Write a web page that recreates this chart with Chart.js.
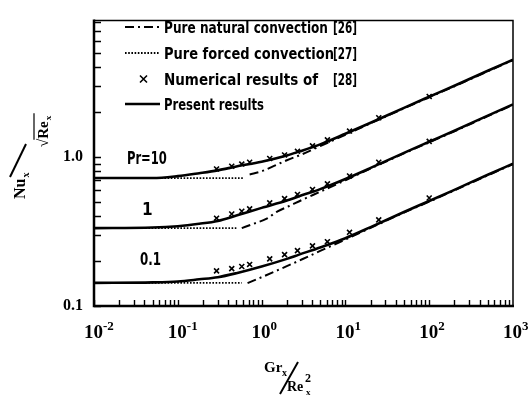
<!DOCTYPE html>
<html>
<head>
<meta charset="utf-8">
<script src="https://cdn.jsdelivr.net/npm/chart.js@4"></script>
<style>
  html, body { margin: 0; padding: 0; background: #fff; }
</style>
</head>
<body>
<canvas id="myChart" width="528" height="395"></canvas>
<script>
// present results (solid lines)
const xPresent = [0.01, 0.05, 0.1, 0.18, 0.3, 0.5, 1, 2, 2.8, 5, 10, 20, 50, 100, 200, 500, 1000];
const present10 = [0.721, 0.721, 0.743, 0.777, 0.812, 0.862, 0.928, 1.022, 1.085, 1.213, 1.429, 1.694, 2.133, 2.531, 3.0, 3.779, 4.483];
const present1 = [0.333, 0.336, 0.343, 0.356, 0.372, 0.404, 0.455, 0.509, 0.544, 0.608, 0.711, 0.843, 1.064, 1.263, 1.498, 1.891, 2.247];
const present01 = [0.143, 0.144, 0.146, 0.151, 0.156, 0.166, 0.184, 0.207, 0.221, 0.247, 0.285, 0.338, 0.427, 0.506, 0.601, 0.759, 0.901];

// pure natural convection [26]
const xNatural10 = [0.72, 1, 1.5, 2, 3, 5, 10, 20, 50, 100, 200, 500, 1000];
const natural10 = [0.762, 0.8, 0.884, 0.949, 1.038, 1.181, 1.407, 1.68, 2.115, 2.51, 2.975, 3.75, 4.45];
const xNatural1 = [0.58, 0.78, 1.15, 1.55, 2.15, 3, 5, 10, 20, 50, 100, 200, 500, 1000];
const natural1 = [0.333, 0.354, 0.385, 0.431, 0.469, 0.513, 0.584, 0.697, 0.835, 1.055, 1.252, 1.485, 1.875, 2.23];
const xNatural01 = [0.68, 1, 2, 3, 5, 10, 20, 50, 100, 200, 500, 1000];
const natural01 = [0.1425, 0.156, 0.185, 0.205, 0.234, 0.279, 0.334, 0.423, 0.501, 0.596, 0.752, 0.893];

// pure forced convection [27]
const xForced10 = [0.01, 0.6];
const forced10 = [0.721, 0.721];
const xForced1 = [0.01, 0.5];
const forced1 = [0.333, 0.333];
const xForced01 = [0.01, 0.58];
const forced01 = [0.143, 0.143];

// numerical results of [28]
const xNumerical = [0.29, 0.44, 0.58, 0.72, 1.25, 1.88, 2.68, 4.05, 6.1, 11.2, 25, 100];
const numerical10 = [0.83, 0.865, 0.895, 0.92, 0.975, 1.03, 1.09, 1.185, 1.3, 1.49, 1.83, 2.54];
const numerical1 = [0.388, 0.414, 0.432, 0.448, 0.492, 0.525, 0.56, 0.605, 0.66, 0.745, 0.92, 1.27];
const numerical01 = [0.172, 0.178, 0.184, 0.19, 0.207, 0.221, 0.235, 0.253, 0.27, 0.312, 0.378, 0.53];

// axes
const xTickExps = [-2, -1, 0, 1, 2, 3];
const yTickValues = [0.1, 1];
const yTickLabels = ['0.1', '1.0'];

const prLabels = ['Pr=10', '1', '0.1'];
const prLabelX = [0.0247, 0.0373, 0.0353];
const prLabelY = [0.9, 0.41, 0.187];

const legendLabels = ['Pure natural convection', 'Pure forced convection', 'Numerical results of', 'Present results'];
const legendRefs = ['[26]', '[27]', '[28]', ''];

function pts(xs, ys) {
  return xs.map((x, i) => ({ x: x, y: ys[i] }));
}

function present(xs, ys) {
  return { data: pts(xs, ys), showLine: true, borderColor: '#000', borderWidth: 2.6,
    pointRadius: 0, cubicInterpolationMode: 'monotone' };
}
function natural(xs, ys) {
  return { data: pts(xs, ys), showLine: true, borderColor: '#000', borderWidth: 2,
    borderDash: [9, 4, 2, 4], pointRadius: 0, cubicInterpolationMode: 'monotone' };
}
function forced(xs, ys) {
  return { data: pts(xs, ys), showLine: true, borderColor: '#000', borderWidth: 1.8,
    borderDash: [1.6, 1.6], pointRadius: 0 };
}
function numerical(xs, ys) {
  return { data: pts(xs, ys), showLine: false, pointStyle: 'crossRot', pointRadius: 3.5,
    borderColor: '#000', pointBorderWidth: 1.6 };
}

const sans = '"DejaVu Sans Condensed", "Liberation Sans Narrow", "Liberation Sans", sans-serif';
const serif = '"Liberation Serif", "DejaVu Serif", serif';

function fitText(ctx, str, x, y, w) {
  const m = ctx.measureText(str).width;
  ctx.save();
  ctx.translate(x, y);
  if (w) ctx.scale(w / m, 1);
  ctx.fillText(str, 0, 0);
  ctx.restore();
}

const decor = {
  id: 'decor',
  afterDraw(chart) {
    const ctx = chart.ctx;
    const a = chart.chartArea;
    const xs = chart.scales.x, ys = chart.scales.y;
    ctx.save();
    ctx.strokeStyle = '#000';
    ctx.fillStyle = '#000';
    ctx.lineCap = 'butt';

    // frame
    ctx.lineWidth = 1.5;
    ctx.beginPath();
    ctx.moveTo(a.left, a.top); ctx.lineTo(a.right, a.top); ctx.lineTo(a.right, a.bottom);
    ctx.stroke();
    ctx.lineWidth = 2.5;
    ctx.beginPath();
    ctx.moveTo(a.left, a.top - 1); ctx.lineTo(a.left, a.bottom); ctx.lineTo(a.right + 1, a.bottom);
    ctx.stroke();

    // inward minor ticks
    ctx.lineWidth = 1.4;
    ctx.beginPath();
    for (let e = -2; e < 3; e++) {
      for (let m = 1; m < 10; m++) {
        const px = Math.round(xs.getPixelForValue(m * Math.pow(10, e))) + 0.5;
        ctx.moveTo(px, a.bottom); ctx.lineTo(px, a.bottom - 6);
      }
    }
    for (let e = -1; e < 1; e++) {
      for (let m = 1; m < 10; m++) {
        const v = m * Math.pow(10, e);
        if (v > ys.max) continue;
        const py = Math.round(ys.getPixelForValue(v)) + 0.5;
        ctx.moveTo(a.left, py); ctx.lineTo(a.left + 7, py);
      }
    }
    ctx.stroke();

    // x tick labels 10^n
    ctx.textBaseline = 'alphabetic';
    xTickExps.forEach(e => {
      const px = xs.getPixelForValue(Math.pow(10, e));
      ctx.font = 'bold 19px ' + serif;
      const w1 = ctx.measureText('10').width;
      const sup = e < 0 ? '-' + (-e) : String(e);
      const x0 = px - 10;
      ctx.fillText('10', x0, a.bottom + 32);
      ctx.font = 'bold 13px ' + serif;
      ctx.fillText(sup, x0 + w1, a.bottom + 24);
    });

    // x axis title Gr_x / Re_x^2
    ctx.font = 'bold 15px ' + serif;
    ctx.fillText('Gr', 264, 372);
    ctx.font = 'bold 10px ' + serif;
    ctx.fillText('x', 282, 376);
    ctx.lineWidth = 2;
    ctx.beginPath(); ctx.moveTo(280, 394); ctx.lineTo(298, 362); ctx.stroke();
    ctx.font = 'bold 14px ' + serif;
    ctx.fillText('Re', 287, 391);
    ctx.font = 'bold 12px ' + serif;
    ctx.fillText('2', 305, 382);
    ctx.font = 'bold 9px ' + serif;
    ctx.fillText('x', 306, 395);

    // y axis title Nu_x / sqrt(Re_x)
    ctx.save();
    ctx.translate(0, 199);
    ctx.rotate(-Math.PI / 2);
    ctx.font = 'bold 16px ' + serif;
    ctx.fillText('Nu', 0, 25);
    const wNu = ctx.measureText('Nu').width;
    ctx.font = 'bold 10px ' + serif;
    ctx.fillText('x', wNu + 1, 29);
    ctx.lineWidth = 2;
    ctx.beginPath(); ctx.moveTo(22, 10); ctx.lineTo(55, 26); ctx.stroke();
    ctx.font = 'bold 15px ' + serif;
    ctx.fillText('\u221A', 52, 48);
    const wR = ctx.measureText('\u221A').width;
    ctx.fillText('Re', 52 + wR, 48);
    const wRe = ctx.measureText('Re').width;
    ctx.lineWidth = 1.2;
    ctx.beginPath(); ctx.moveTo(52 + wR - 1, 34); ctx.lineTo(52 + wR + wRe + 8, 34); ctx.stroke();
    ctx.font = 'bold 9px ' + serif;
    ctx.fillText('x', 52 + wR + wRe + 1, 51);
    ctx.restore();

    // Pr labels
    ctx.font = 'bold 17px ' + sans;
    prLabels.forEach((t, i) => {
      const px = xs.getPixelForValue(prLabelX[i]);
      const py = ys.getPixelForValue(prLabelY[i]);
      fitText(ctx, t, px, py, t.length === 5 ? 40 : (t.length === 3 ? 21 : 0));
    });

    // legend
    const rowY = [27, 53, 79, 104];
    const textW = [164, 170, 154, 100];
    ctx.font = 'bold 15px ' + sans;
    legendLabels.forEach((t, i) => {
      const y = rowY[i];
      ctx.save();
      if (i === 0) { ctx.lineWidth = 2; ctx.setLineDash([9, 4, 2, 4]); }
      if (i === 1) { ctx.lineWidth = 1.8; ctx.setLineDash([1.6, 1.6]); }
      if (i === 3) { ctx.lineWidth = 2.6; }
      if (i !== 2) {
        ctx.beginPath(); ctx.moveTo(125, y); ctx.lineTo(160, y); ctx.stroke();
      } else {
        ctx.lineWidth = 1.6;
        ctx.beginPath();
        ctx.moveTo(140, y - 3.5); ctx.lineTo(147, y + 3.5);
        ctx.moveTo(147, y - 3.5); ctx.lineTo(140, y + 3.5);
        ctx.stroke();
      }
      ctx.restore();
      fitText(ctx, t, 164, y + 6, textW[i]);
      if (legendRefs[i]) fitText(ctx, legendRefs[i], 333, y + 6, 24);
    });

    ctx.restore();
  }
};

const config = {
  type: 'scatter',
  data: {
    datasets: [
      present(xPresent, present10),
      present(xPresent, present1),
      present(xPresent, present01),
      natural(xNatural10, natural10),
      natural(xNatural1, natural1),
      natural(xNatural01, natural01),
      forced(xForced10, forced10),
      forced(xForced1, forced1),
      forced(xForced01, forced01),
      numerical(xNumerical, numerical10),
      numerical(xNumerical, numerical1),
      numerical(xNumerical, numerical01)
    ]
  },
  options: {
    responsive: false,
    animation: false,
    devicePixelRatio: 1,
    layout: { padding: { left: 0, right: 15, top: 8, bottom: 0 } },
    plugins: { legend: { display: false }, tooltip: { enabled: false } },
    scales: {
      x: {
        type: 'logarithmic', min: 0.01, max: 1000,
        grid: { display: false, drawTicks: false }, border: { display: false },
        ticks: { display: false },
        afterFit: s => { s.height = 89; }
      },
      y: {
        type: 'logarithmic', min: 0.1, max: 8.2,
        grid: { display: false, drawTicks: false }, border: { display: false },
        afterBuildTicks: s => { s.ticks = yTickValues.map(v => ({ value: v })); },
        ticks: {
          autoSkip: false, padding: 11, color: '#000',
          font: { family: serif, weight: 'bold', size: 16 },
          callback: (v, i) => yTickLabels[i]
        },
        afterFit: s => { s.width = 94; }
      }
    }
  },
  plugins: [decor]
};

var myChart = new Chart(document.getElementById('myChart'), config);
</script>
</body>
</html>
